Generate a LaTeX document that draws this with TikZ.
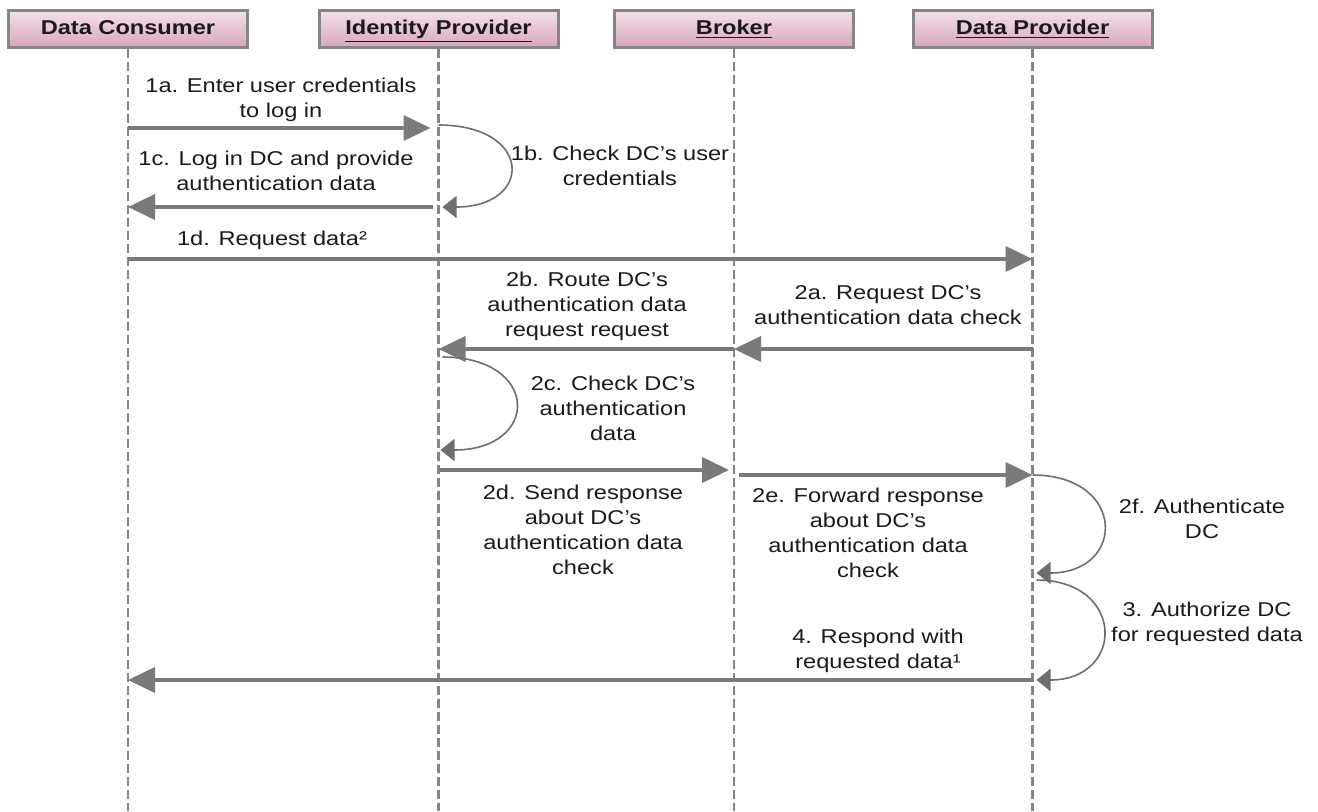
\documentclass[tikz,border=0pt]{standalone}
\usepackage{fontspec}
\setmainfont[FakeStretch=1.18]{Liberation Sans}
\usetikzlibrary{arrows.meta}
\definecolor{msggray}{HTML}{7A7A7A}
\definecolor{loopgray}{HTML}{6E6E6E}
\definecolor{linegray}{HTML}{858585}
\definecolor{headtop}{HTML}{F3E1EA}
\definecolor{headbot}{HTML}{D8A6BD}
\definecolor{txt}{HTML}{1A1A1A}
\tikzset{
  actor/.style={draw=linegray, line width=1.5pt, top color=headtop, bottom color=headbot,
    minimum width=119.5pt, minimum height=18.5pt, inner sep=0pt, text height=7.3pt,
    text depth=2pt, font=\bfseries, text=txt},
  lifeline/.style={draw=linegray, line width=1.1pt, dash pattern=on 4.5pt off 2pt},
  msg/.style={draw=msggray, line width=2pt, -{Triangle[length=13.5pt,width=12.5pt]}},
  selfmsg/.style={draw=loopgray, line width=0.8pt, -{Triangle[length=7pt,width=11pt]}},
  lbl/.style={align=center, inner sep=0pt, text=txt}
}
\begin{document}
\begin{tikzpicture}[x=0.5pt, y=-0.5pt, font=\fontsize{10}{12.5}\selectfont]
\useasboundingbox (0,0) rectangle (1318,811);
% actors and lifelines
\node[actor] (dc) at (128,29) {Data Consumer};
\node[actor] (idp) at (438.5,29) {\underline{Identity Provider}};
\node[actor] (brk) at (734,29) {\underline{Broker}};
\node[actor] (dp) at (1032.5,29) {\underline{Data Provider}};
\foreach \a in {dc,idp,brk,dp}{
  \coordinate (\a-end) at (\a.south |- 0,811);
  \draw[lifeline] (\a.south) -- (\a-end);
  \foreach \r/\y in {1a/128,1c/207,1d/259,2a/349,2d/470,2e/475,4/680}
    \coordinate (\a-\r) at (\a.south |- 0,\y);
}
% messages
\draw[msg, shorten >=4pt] (dc-1a) -- (idp-1a);
\draw[msg, shorten <=3pt] (idp-1c) -- (dc-1c);
\draw[msg] (dc-1d) -- (dp-1d);
\draw[msg] (dp-2a) -- (brk-2a);
\draw[msg] (brk-2a) -- (idp-2a);
\draw[msg, shorten >=2.5pt] (idp-2d) -- (brk-2d);
\draw[msg, shorten <=2.5pt] (brk-2e) -- (dp-2e);
\draw[msg] (dp-4) -- (dc-4);
% self messages
\draw[selfmsg] ([yshift=1.5pt]idp-1a) .. controls +(95,0) and +(91,0) .. ([xshift=2pt]idp-1c);
\draw[selfmsg] ([xshift=2pt,yshift=-4pt]idp-2a) .. controls +(98,0) and +(100,0) .. ([xshift=1pt,yshift=10pt]idp-2d);
\draw[selfmsg] (dp-2e) .. controls +(94,0) and +(90,0) .. ([xshift=2pt,yshift=-49pt]dp-2e);
\draw[selfmsg] ([xshift=2pt,yshift=50pt]dp-4) .. controls +(89,0) and +(89,0) .. ([xshift=2pt]dp-4);
% labels
\node[lbl] (l1a) at (281,99.5) {1a. Enter user credentials\\to log in};
\node[lbl] (l1b) at (620,165.5) {1b. Check DC's user\\credentials};
\node[lbl] (l1c) at (276,170.5) {1c. Log in DC and provide\\authentication data};
\node[lbl] (l1d) at (272,240) {1d. Request data²};
\node[lbl] (l2a) at (888,305.5) {2a. Request DC's\\authentication data check};
\node[lbl] (l2b) at (587,306) {2b. Route DC's\\authentication data\\request request};
\node[lbl] (l2c) at (613,408) {2c. Check DC's\\authentication\\data};
\node[lbl] (l2d) at (583,530) {2d. Send response\\about DC's\\authentication data\\check};
\node[lbl] (l2e) at (868,532.5) {2e. Forward response\\about DC's\\authentication data\\check};
\node[lbl] (l2f) at (1202,518.5) {2f. Authenticate\\DC};
\node[lbl] (l3) at (1207,623.5) {3. Authorize DC\\for requested data};
\node[lbl] (l4) at (878,650.5) {4. Respond with\\requested data¹};
\end{tikzpicture}
\end{document}
